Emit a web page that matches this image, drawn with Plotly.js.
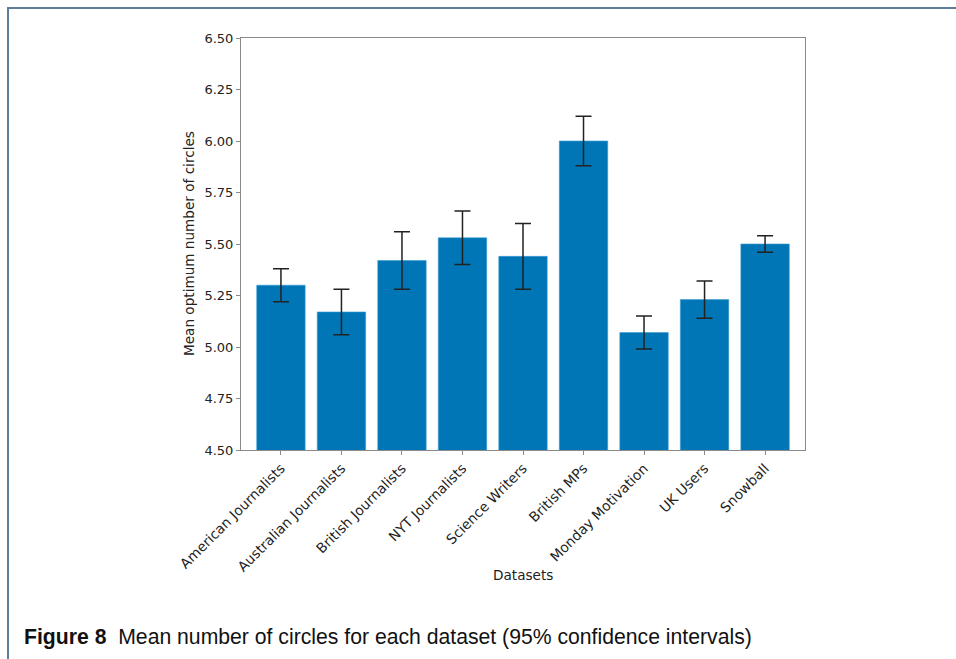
<!DOCTYPE html>
<html>
<head>
<meta charset="utf-8">
<script src="https://cdn.plot.ly/plotly-3.0.1.min.js"></script>
<style>html,body{margin:0;padding:0;background:#fff;}#chart{width:956px;height:659px;}</style>
</head>
<body>
<div id="chart"></div>
<script>
const categories = ["American Journalists","Australian Journalists","British Journalists","NYT Journalists","Science Writers","British MPs","Monday Motivation","UK Users","Snowball"];
const means = [5.30, 5.17, 5.42, 5.53, 5.44, 6.00, 5.07, 5.23, 5.50];
const ciUpper = [5.38, 5.28, 5.56, 5.66, 5.60, 6.12, 5.15, 5.32, 5.54];
const ciLower = [5.22, 5.06, 5.28, 5.40, 5.28, 5.88, 4.99, 5.14, 5.46];
const yTicks = [4.50, 4.75, 5.00, 5.25, 5.50, 5.75, 6.00, 6.25, 6.50];

const errPlus = means.map((m, i) => ciUpper[i] - m);
const errMinus = means.map((m, i) => m - ciLower[i]);

const L = 241, R = 805, T = 38, B = 450;
const W = 956, H = 659;
const px = x => (x - L) / (R - L);
const py = y => (B - y) / (B - T);

const trace = {
  type: 'bar',
  x: categories,
  y: means,
  marker: {color: '#0076B6', line: {color: '#3a9ad4', width: 0.6}},
  error_y: {type: 'data', symmetric: false, array: errPlus, arrayminus: errMinus, color: '#222222', thickness: 1.5, width: 8},
  hoverinfo: 'x+y'
};

const grey = '#8a8a8a';
const layout = {
  width: W, height: H,
  margin: {l: L, r: W - R, t: T, b: H - B, pad: 0},
  paper_bgcolor: '#ffffff', plot_bgcolor: '#ffffff',
  showlegend: false,
  bargap: 0.2,
  font: {family: 'DejaVu Sans', color: '#222222', size: 13.5},
  xaxis: {
    type: 'category', range: [-0.66, 8.66], tickangle: -45,
    showline: true, mirror: true, linecolor: grey, linewidth: 1,
    ticks: 'outside', ticklen: 4, tickcolor: grey, showgrid: false,
    tickfont: {family: 'DejaVu Sans', size: 13.8, color: '#222'},
    automargin: false
  },
  yaxis: {
    range: [4.5, 6.5], tickvals: yTicks, ticktext: yTicks.map(v => v.toFixed(2)),
    showline: true, mirror: true, linecolor: grey, linewidth: 1,
    ticks: 'outside', ticklen: 4, tickcolor: grey, showgrid: false, zeroline: false,
    tickfont: {family: 'DejaVu Sans', size: 13, color: '#222'},
    automargin: false
  },
  shapes: [
    {type: 'line', xref: 'paper', yref: 'paper', x0: px(8), x1: px(960), y0: py(8), y1: py(8), line: {color: '#5d7d9b', width: 2}},
    {type: 'line', xref: 'paper', yref: 'paper', x0: px(8), x1: px(8), y0: py(7), y1: py(662), line: {color: '#5d7d9b', width: 2}}
  ],
  annotations: [
    {xref: 'paper', yref: 'paper', x: px(523), y: py(575), xanchor: 'center', yanchor: 'middle', showarrow: false,
     text: 'Datasets', font: {family: 'DejaVu Sans', size: 13.6, color: '#222'}},
    {xref: 'paper', yref: 'paper', x: px(189), y: py(244), xanchor: 'center', yanchor: 'middle', showarrow: false, textangle: -90,
     text: 'Mean optimum number of circles', font: {family: 'DejaVu Sans', size: 13.6, color: '#222'}},
    {xref: 'paper', yref: 'paper', x: px(22), y: py(637), xanchor: 'left', yanchor: 'middle', showarrow: false,
     text: '<b>Figure 8</b>\u00a0\u00a0Mean number of circles for each dataset (95% confidence intervals)',
     font: {family: 'Liberation Sans', size: 21.2, color: '#111'}}
  ]
};

Plotly.newPlot('chart', [trace], layout, {displayModeBar: false, staticPlot: true});
</script>
</body>
</html>
